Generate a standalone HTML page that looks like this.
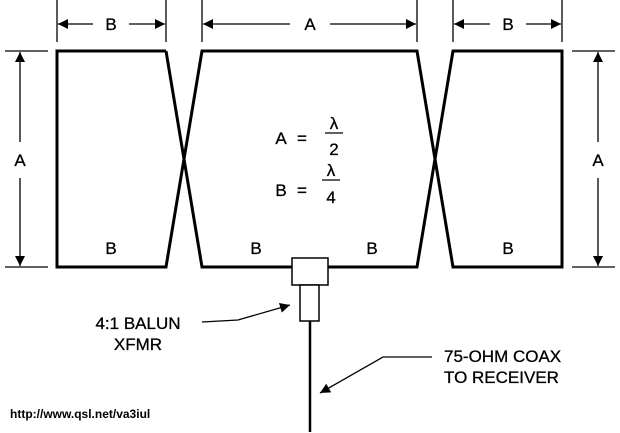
<!DOCTYPE html>
<html><head><style>body{margin:0;background:#fff}svg{display:block}</style></head><body>
<svg width="620" height="433" viewBox="0 0 620 433" xmlns="http://www.w3.org/2000/svg" font-family="Liberation Sans, Arial, sans-serif">
<defs><marker id="ar" viewBox="0 0 10 10" refX="10" refY="5" markerWidth="12" markerHeight="10" orient="auto-start-reverse" markerUnits="userSpaceOnUse"><path d="M0,0L10,5L0,10z" fill="#000"/></marker></defs>
<g fill="none" stroke="#000" stroke-width="3" stroke-linejoin="miter">
<path d="M166,51 L57,51 L57,267 L166,267 L202,51 L417,51 L453,267 L562,267 L562,51 L453,51 L417,267 L328,267 M292,267 L202,267 L166,51"/>
</g>
<g stroke="#000" stroke-width="1.3" fill="none">
<line x1="57" y1="0" x2="57" y2="42"/><line x1="166" y1="0" x2="166" y2="42"/>
<line x1="202" y1="0" x2="202" y2="42"/><line x1="417" y1="0" x2="417" y2="42"/>
<line x1="453" y1="0" x2="453" y2="42"/><line x1="562" y1="0" x2="562" y2="42"/>
<line x1="5" y1="51" x2="48" y2="51"/><line x1="5" y1="267" x2="48" y2="267"/>
<line x1="572" y1="51" x2="615" y2="51"/><line x1="572" y1="267" x2="615" y2="267"/>
<line x1="93" y1="24" x2="58" y2="24" marker-end="url(#ar)"/><line x1="129" y1="24" x2="165" y2="24" marker-end="url(#ar)"/>
<line x1="290" y1="24" x2="203" y2="24" marker-end="url(#ar)"/><line x1="330" y1="24" x2="416" y2="24" marker-end="url(#ar)"/>
<line x1="490" y1="24" x2="454" y2="24" marker-end="url(#ar)"/><line x1="526" y1="24" x2="561" y2="24" marker-end="url(#ar)"/>
<line x1="20" y1="142" x2="20" y2="52" marker-end="url(#ar)"/><line x1="20" y1="178" x2="20" y2="266" marker-end="url(#ar)"/>
<line x1="598" y1="142" x2="598" y2="52" marker-end="url(#ar)"/><line x1="598" y1="178" x2="598" y2="266" marker-end="url(#ar)"/>
<polyline points="202,322 238,320 290,305" marker-end="url(#ar)"/>
<polyline points="432,357 383,357 320,393" marker-end="url(#ar)"/>
<line x1="325" y1="133" x2="343" y2="133"/><line x1="322" y1="180" x2="340" y2="180"/>
</g>
<rect x="292" y="258" width="36" height="27" fill="#fff" stroke="#000" stroke-width="1.5"/>
<rect x="300" y="285" width="19" height="36" fill="#fff" stroke="#000" stroke-width="1.5"/>
<line x1="310" y1="321" x2="310" y2="432" stroke="#000" stroke-width="2.5"/>
<g font-size="17" text-anchor="middle" fill="#000" stroke="#000" stroke-width="0.3">
<text x="111" y="30">B</text><text x="310" y="30">A</text><text x="508" y="30">B</text>
<text x="20" y="166">A</text><text x="598" y="166">A</text>
<text x="111" y="254">B</text><text x="256" y="254">B</text><text x="372" y="254">B</text><text x="508" y="254">B</text>
<text x="281" y="144">A</text><text x="302" y="144">=</text><text x="334" y="129">λ</text><text x="334" y="155">2</text>
<text x="281" y="196">B</text><text x="302" y="196">=</text><text x="331" y="176">λ</text><text x="331" y="203">4</text>
<text x="138" y="329">4:1 BALUN</text><text x="138" y="350">XFMR</text>
</g>
<g font-size="17" fill="#000" stroke="#000" stroke-width="0.3"><text x="444" y="362">75-OHM COAX</text><text x="444" y="383">TO RECEIVER</text></g>
<text x="10" y="418" font-size="12" font-weight="bold" fill="#000">http://www.qsl.net/va3iul</text>
</svg>
</body></html>
